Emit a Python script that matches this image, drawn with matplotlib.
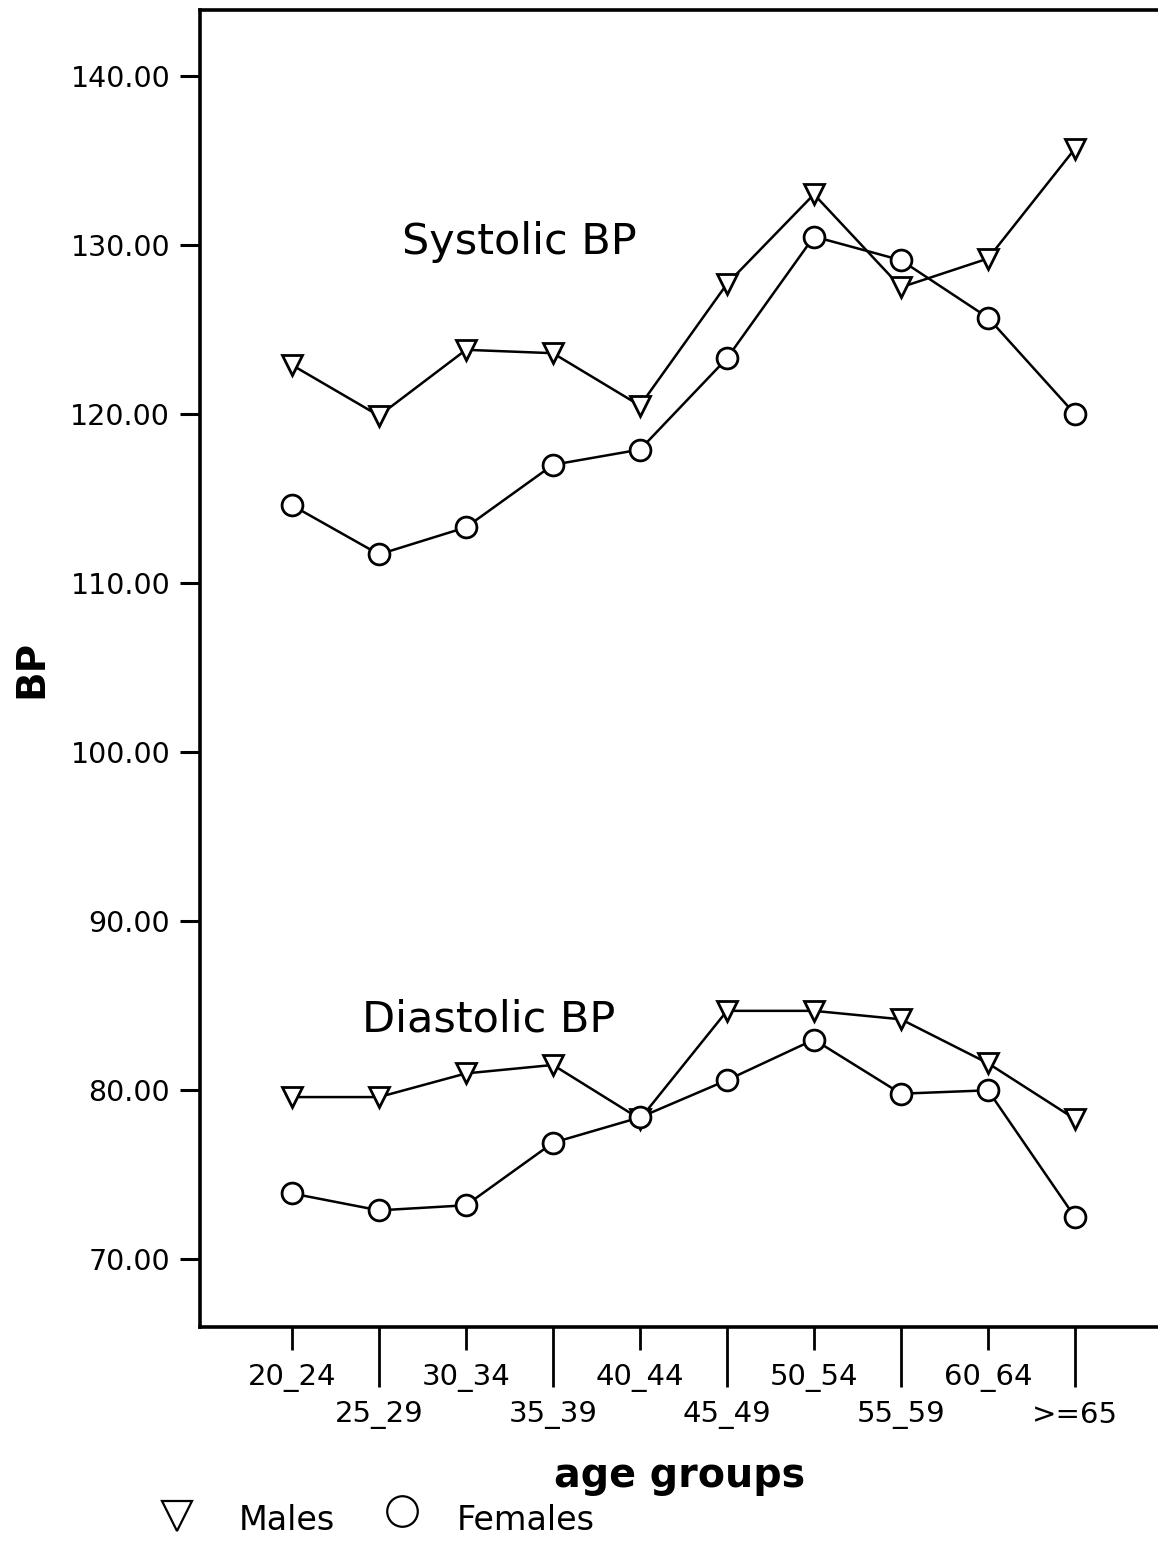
import matplotlib
matplotlib.use('Agg')
import matplotlib.pyplot as plt
from matplotlib.lines import Line2D

plt.rcParams['font.family'] = ['DejaVu Sans']

# categorias e valores
grupos = ['20_24', '25_29', '30_34', '35_39', '40_44', '45_49',
          '50_54', '55_59', '60_64', '>=65']
sist_homens = [122.9, 119.9, 123.8, 123.6, 120.5, 127.7, 133.0, 127.5, 129.2, 135.7]
sist_mulheres = [114.6, 111.7, 113.3, 117.0, 117.9, 123.3, 130.5, 129.1, 125.7, 120.0]
diast_homens = [79.6, 79.6, 81.0, 81.5, 78.3, 84.7, 84.7, 84.2, 81.6, 78.3]
diast_mulheres = [73.9, 72.9, 73.2, 76.9, 78.4, 80.6, 83.0, 79.8, 80.0, 72.5]
y_ticks = [70, 80, 90, 100, 110, 120, 130, 140]

W, H = 1158, 1547
fig = plt.figure(figsize=(W / 100, H / 100), dpi=100)
ax = fig.add_axes([200 / W, 1 - 1327 / H, 1 - 200 / W, (1327 - 10) / H])

x = list(range(len(grupos)))
estilo_h = dict(color='black', lw=1.8, marker='v', markersize=14,
                markerfacecolor='white', markeredgecolor='black', markeredgewidth=2.0)
estilo_m = dict(color='black', lw=1.8, marker='o', markersize=15,
                markerfacecolor='white', markeredgecolor='black', markeredgewidth=2.0)

ax.plot(x, sist_homens, **estilo_h)
ax.plot(x, sist_mulheres, **estilo_m)
ax.plot(x, diast_homens, **estilo_h)
ax.plot(x, diast_mulheres, **estilo_m)

ax.text(1.26, 130.2, 'Systolic BP', fontsize=31, ha='left', va='center')
ax.text(0.8, 84.2, 'Diastolic BP', fontsize=31, ha='left', va='center')

ax.set_xlim(-92 / 87, (1158 - 292) / 87)
ax.set_ylim(66.0, 143.9)

ax.spines['right'].set_visible(False)
for s in ['left', 'top', 'bottom']:
    ax.spines[s].set_linewidth(2.6)

ax.set_yticks(y_ticks)
ax.set_yticklabels([f'{v:.2f}' for v in y_ticks], fontsize=20.5)
ax.tick_params(axis='y', length=14.5, width=2.2, pad=7)

# rotulos escalonados: pares em cima (tick curto), impares embaixo (tick longo)
pares = x[0::2]
impares = x[1::2]
ax.set_xticks(pares)
ax.set_xticklabels(grupos[0::2], fontsize=21)
ax.set_xticks(impares, minor=True)
ax.set_xticklabels(grupos[1::2], minor=True, fontsize=21)
ax.tick_params(axis='x', which='major', length=16.5, width=2.0, pad=10)
ax.tick_params(axis='x', which='minor', length=43, width=2.0, pad=10)

fig.text(31 / W, 1 - 669 / H, 'BP', rotation=90, fontsize=28, fontweight='bold',
         ha='center', va='center')
fig.text(680 / W, 1 - 1476 / H, 'age groups', fontsize=28.5, fontweight='bold',
         ha='center', va='center')

# legenda manual
fig.add_artist(Line2D([177 / W], [1 - 1516 / H], marker='v', markersize=22,
                      markerfacecolor='white', markeredgecolor='black',
                      markeredgewidth=1.6, linestyle='none'))
fig.text(239 / W, 1 - 1520 / H, 'Males', fontsize=24, ha='left', va='center')
fig.add_artist(Line2D([402 / W], [1 - 1511 / H], marker='o', markersize=22,
                      markerfacecolor='white', markeredgecolor='black',
                      markeredgewidth=1.6, linestyle='none'))
fig.text(457 / W, 1 - 1520 / H, 'Females', fontsize=24, ha='left', va='center')

fig.savefig('out.png', dpi=100)
